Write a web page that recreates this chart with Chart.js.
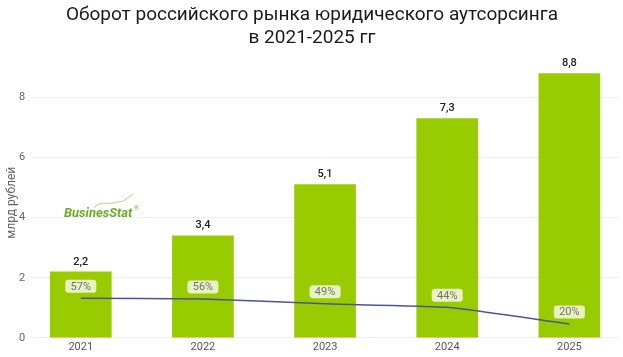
<!DOCTYPE html>
<html>
<head>
<meta charset="utf-8">
<script src="https://cdn.jsdelivr.net/npm/chart.js@4.4.1/dist/chart.umd.min.js"></script>
<style>
  html, body { margin: 0; padding: 0; background: #fff; }
  #wrap { width: 623px; height: 357px; position: relative; }
</style>
</head>
<body>
<div id="wrap"><canvas id="c" width="623" height="357"></canvas></div>
<script>
const years = ['2021', '2022', '2023', '2024', '2025'];
const turnover = [2.2, 3.4, 5.1, 7.3, 8.8];
const sharePct = [57, 56, 49, 44, 20];
const yTicks = [0, 2, 4, 6, 8];
const titleLines = ['Оборот российского рынка юридического аутсорсинга', 'в 2021-2025 гг'];
const yTitle = 'млрд рублей';

const FONT = 'Roboto, "DejaVu Sans", sans-serif';

const labelsPlugin = {
  id: 'labelsPlugin',
  afterDatasetsDraw(chart) {
    const ctx = chart.ctx;
    ctx.save();
    const barMeta = chart.getDatasetMeta(0);
    ctx.font = '500 11px ' + FONT;
    ctx.fillStyle = '#222';
    ctx.textAlign = 'center';
    ctx.textBaseline = 'middle';
    barMeta.data.forEach((el, i) => {
      ctx.fillText(String(turnover[i]).replace('.', ','), el.x, el.y - 10);
    });
    const lineMeta = chart.getDatasetMeta(1);
    ctx.font = '11px ' + FONT;
    lineMeta.data.forEach((el, i) => {
      const txt = sharePct[i] + '%';
      const w = 31, h = 13;
      const cx = el.x, cy = el.y - 12;
      ctx.fillStyle = 'rgba(236,244,206,0.95)';
      ctx.beginPath();
      ctx.roundRect(cx - w / 2, cy - h / 2, w, h, 3);
      ctx.fill();
      ctx.fillStyle = '#707070';
      ctx.fillText(txt, cx, cy + 0.5);
    });
    ctx.restore();
  },
  beforeDatasetsDraw(chart) {
    const ctx = chart.ctx;
    ctx.save();
    ctx.font = 'italic bold 13px ' + FONT;
    ctx.fillStyle = '#6cac24';
    ctx.textAlign = 'left';
    ctx.textBaseline = 'middle';
    ctx.fillText('BusinesStat', 64, 214);
    ctx.font = '6px ' + FONT;
    ctx.fillText('®', 134, 208);
    ctx.strokeStyle = '#9acb4a';
    ctx.lineWidth = 0.8;
    ctx.beginPath();
    ctx.moveTo(94, 208);
    ctx.bezierCurveTo(101, 200, 107, 205, 113, 203);
    ctx.bezierCurveTo(118, 201, 122, 203, 126, 199);
    ctx.bezierCurveTo(129, 196, 131, 197, 133, 194);
    ctx.stroke();
    ctx.restore();
  }
};

new Chart(document.getElementById('c'), {
  data: {
    datasets: [
      {
        type: 'bar',
        data: turnover.map((v, i) => ({ x: i, y: v })),
        backgroundColor: '#99cc00',
        barThickness: 61,
        yAxisID: 'y',
        order: 2
      },
      {
        type: 'line',
        data: sharePct.map((v, i) => ({ x: i, y: v })),
        borderColor: '#4a5694',
        borderWidth: 1.5,
        pointRadius: 0,
        tension: 0.15,
        fill: false,
        yAxisID: 'y2',
        order: 1
      }
    ]
  },
  options: {
    responsive: false,
    animation: false,
    layout: { padding: { left: 6, right: 5, top: 0, bottom: 0 } },
    plugins: {
      legend: { display: false },
      tooltip: { enabled: false },
      title: {
        display: true,
        text: titleLines,
        color: '#1a1a1a',
        font: { family: FONT, size: 19, weight: 'normal', lineHeight: 1.2 },
        padding: { top: 4, bottom: 18 }
      }
    },
    scales: {
      x: {
        type: 'linear',
        offset: false,
        min: -0.406,
        max: 4.398,
        grid: { display: false, drawTicks: false, offset: false },
        border: { display: false },
        afterBuildTicks: s => { s.ticks = years.map((_, i) => ({ value: i })); },
        ticks: {
          callback: v => years[v],
          color: '#555',
          font: { family: FONT, size: 11 },
          padding: 3,
          maxRotation: 0
        }
      },
      y: {
        min: 0,
        max: 9,
        afterBuildTicks: s => { s.ticks = yTicks.map(v => ({ value: v })); },
        grid: { color: '#eeeeee', drawTicks: false },
        border: { display: false },
        ticks: { color: '#666', font: { family: FONT, size: 11 }, padding: 6 },
        title: {
          display: true,
          text: yTitle,
          color: '#666',
          font: { family: FONT, size: 12, lineHeight: 1 },
          padding: { top: 0, bottom: -5 }
        }
      },
      y2: {
        display: false,
        min: 0,
        max: 390
      }
    }
  },
  plugins: [labelsPlugin]
});
</script>
</body>
</html>
